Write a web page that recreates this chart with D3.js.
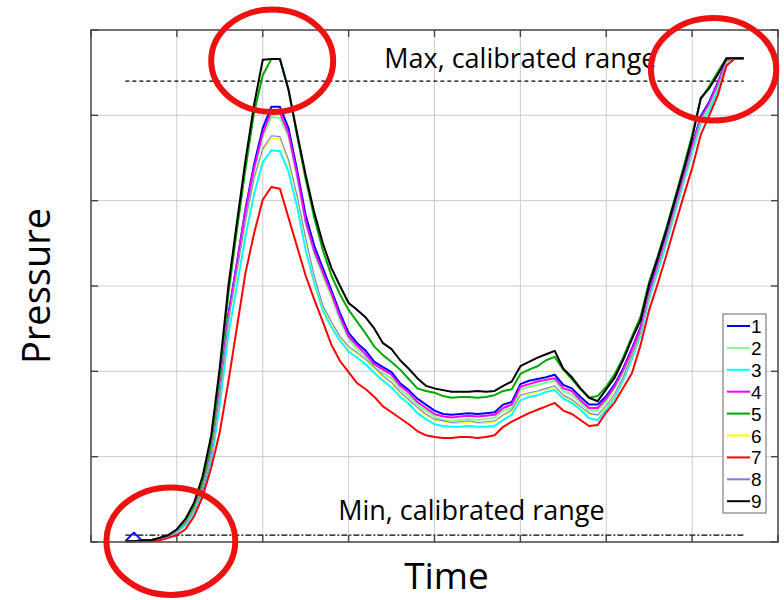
<!DOCTYPE html>
<html><head><meta charset="utf-8">
<script src="https://cdn.jsdelivr.net/npm/d3@7"></script>
<style>body{margin:0;background:#fff}</style>
</head><body><svg id="chart" width="784" height="600"></svg>
<script>
// ---------- DATA ----------
const time = [0.4,0.5,0.6,0.7,0.8,0.9,1.0,1.1,1.2,1.3,1.4,1.5,1.6,1.7,1.8,1.9,2.0,2.1,2.2,2.3,2.4,2.5,2.6,2.7,2.8,2.9,3.0,3.1,3.2,3.3,3.4,3.5,3.6,3.7,3.8,3.9,4.0,4.1,4.2,4.3,4.4,4.5,4.6,4.7,4.8,4.9,5.0,5.1,5.2,5.3,5.4,5.5,5.6,5.7,5.8,5.9,6.0,6.1,6.2,6.3,6.4,6.5,6.6,6.7,6.8,6.9,7.0,7.1,7.2,7.3,7.4,7.5,7.6];
const seriesNames = ["1","2","3","4","5","6","7","8","9"];
const sensor1 = [0.01,0.11,0.01,0.02,0.04,0.06,0.13,0.22,0.39,0.64,1.05,1.78,2.67,3.28,3.91,4.43,4.85,5.10,5.10,4.85,4.36,3.83,3.47,3.21,2.95,2.68,2.45,2.33,2.24,2.11,2.05,1.99,1.86,1.78,1.68,1.61,1.54,1.50,1.49,1.50,1.51,1.50,1.51,1.52,1.61,1.64,1.85,1.89,1.91,1.93,1.96,1.84,1.80,1.70,1.61,1.61,1.71,1.85,2.04,2.27,2.52,2.94,3.27,3.59,3.94,4.29,4.64,4.99,5.16,5.39,5.65,5.67,5.67];
const sensor2 = [0.01,0.01,0.02,0.02,0.04,0.06,0.13,0.22,0.39,0.63,1.02,1.75,2.60,3.24,3.85,4.36,4.75,4.98,4.97,4.75,4.27,3.73,3.38,3.12,2.88,2.60,2.38,2.26,2.17,2.04,1.98,1.92,1.79,1.71,1.61,1.54,1.47,1.43,1.42,1.43,1.44,1.43,1.44,1.46,1.54,1.57,1.78,1.82,1.84,1.87,1.89,1.77,1.73,1.63,1.54,1.54,1.65,1.80,1.99,2.22,2.47,2.90,3.22,3.55,3.90,4.25,4.60,4.96,5.12,5.36,5.64,5.67,5.67];
const sensor3 = [0.01,0.01,0.01,0.02,0.03,0.06,0.11,0.20,0.34,0.57,0.94,1.61,2.43,3.01,3.59,4.08,4.45,4.59,4.58,4.34,3.93,3.42,3.04,2.71,2.52,2.36,2.23,2.16,2.08,1.98,1.89,1.81,1.70,1.62,1.51,1.44,1.38,1.36,1.35,1.35,1.36,1.35,1.35,1.36,1.43,1.49,1.66,1.70,1.72,1.76,1.78,1.68,1.63,1.55,1.45,1.43,1.55,1.70,1.90,2.15,2.42,2.85,3.17,3.50,3.86,4.21,4.56,4.90,5.06,5.30,5.59,5.67,5.67];
const sensor4 = [0.01,0.01,0.02,0.02,0.04,0.06,0.13,0.22,0.39,0.63,1.03,1.76,2.63,3.26,3.88,4.39,4.79,5.04,5.03,4.79,4.31,3.76,3.41,3.16,2.91,2.64,2.41,2.30,2.20,2.08,2.02,1.96,1.83,1.75,1.64,1.57,1.50,1.47,1.46,1.47,1.48,1.47,1.48,1.49,1.57,1.61,1.82,1.85,1.88,1.90,1.92,1.80,1.77,1.66,1.57,1.57,1.68,1.83,2.02,2.25,2.50,2.92,3.25,3.56,3.91,4.27,4.62,4.97,5.14,5.37,5.65,5.67,5.67];
const sensor5 = [0.01,0.01,0.02,0.02,0.04,0.08,0.14,0.25,0.42,0.70,1.16,1.96,2.91,3.66,4.38,5.04,5.47,5.66,5.66,5.30,4.76,4.25,3.80,3.42,3.12,2.90,2.72,2.58,2.44,2.29,2.19,2.11,2.02,1.91,1.80,1.77,1.75,1.71,1.69,1.70,1.70,1.69,1.70,1.72,1.77,1.79,1.97,2.02,2.06,2.13,2.17,2.02,1.91,1.79,1.69,1.71,1.82,1.97,2.17,2.41,2.64,3.05,3.35,3.68,4.03,4.39,4.77,5.19,5.34,5.51,5.67,5.67,5.67];
const sensor6 = [0.01,0.01,0.02,0.02,0.04,0.06,0.12,0.22,0.38,0.64,1.02,1.72,2.58,3.16,3.75,4.24,4.59,4.73,4.73,4.45,4.04,3.54,3.10,2.75,2.56,2.40,2.27,2.21,2.13,2.04,1.93,1.86,1.74,1.66,1.57,1.48,1.43,1.41,1.39,1.39,1.41,1.39,1.39,1.41,1.48,1.53,1.71,1.73,1.76,1.79,1.81,1.71,1.66,1.58,1.50,1.48,1.58,1.73,1.93,2.18,2.45,2.88,3.21,3.54,3.89,4.24,4.59,4.94,5.11,5.34,5.62,5.67,5.67];
const sensor7 = [0.01,0.01,0.01,0.01,0.02,0.05,0.08,0.15,0.30,0.53,0.87,1.29,1.88,2.52,3.16,3.62,4.01,4.16,4.14,3.80,3.46,3.12,2.84,2.58,2.31,2.12,1.99,1.86,1.79,1.70,1.59,1.52,1.45,1.38,1.30,1.25,1.23,1.22,1.22,1.23,1.23,1.22,1.23,1.25,1.35,1.41,1.46,1.51,1.55,1.59,1.63,1.54,1.50,1.43,1.36,1.37,1.52,1.64,1.81,1.98,2.31,2.72,3.03,3.36,3.71,4.05,4.38,4.77,5.00,5.24,5.58,5.67,5.67];
const sensor8 = [0.01,0.01,0.02,0.02,0.04,0.06,0.12,0.22,0.38,0.64,1.03,1.73,2.59,3.18,3.77,4.27,4.61,4.76,4.75,4.48,4.06,3.56,3.12,2.77,2.58,2.41,2.29,2.22,2.14,2.05,1.95,1.87,1.76,1.67,1.58,1.50,1.44,1.42,1.40,1.41,1.42,1.40,1.41,1.42,1.49,1.55,1.72,1.75,1.77,1.80,1.83,1.72,1.67,1.59,1.51,1.49,1.60,1.74,1.94,2.19,2.46,2.89,3.22,3.55,3.90,4.25,4.60,4.95,5.12,5.35,5.63,5.67,5.67];
const sensor9 = [0.01,0.01,0.02,0.02,0.05,0.08,0.15,0.27,0.46,0.77,1.25,2.05,3.00,3.75,4.48,5.13,5.65,5.66,5.66,5.30,4.79,4.30,3.86,3.50,3.21,3.00,2.80,2.72,2.63,2.50,2.33,2.26,2.13,2.03,1.92,1.83,1.80,1.78,1.76,1.76,1.76,1.77,1.76,1.77,1.83,1.88,2.06,2.11,2.16,2.20,2.24,2.03,1.93,1.80,1.69,1.65,1.79,1.93,2.14,2.38,2.60,3.02,3.33,3.66,4.01,4.36,4.73,5.20,5.32,5.48,5.67,5.67,5.67];
const calibratedMax = 5.40;
const calibratedMin = 0.08;
const xTickValues = [0,1,2,3,4,5,6,7,8];
const yTickValues = [0,1,2,3,4,5,6];
const xLabel = "Time";
const yLabel = "Pressure";
const maxLabel = "Max, calibrated range";
const minLabel = "Min, calibrated range";

// ---------- STYLE ----------
const seriesValues = [sensor1,sensor2,sensor3,sensor4,sensor5,sensor6,sensor7,sensor8,sensor9];
const colors = ["#0000ff","#80ff80","#00ffff","#ff00ff","#00a800","#ffff00","#ff0000","#7b7bf0","#000000"];
const widths = [2,2,2,2,2,1.3,2,1.1,2];

const svg = d3.select("#chart");
const x = d3.scaleLinear().domain([0,8]).range([91,778]);
const y = d3.scaleLinear().domain([0,6]).range([542,30]);

// grid
svg.append("g").selectAll("line").data(xTickValues).join("line")
  .attr("x1",d=>x(d)).attr("x2",d=>x(d)).attr("y1",y(0)).attr("y2",y(6))
  .attr("stroke","#cccccc").attr("stroke-width",1);
svg.append("g").selectAll("line").data(yTickValues).join("line")
  .attr("x1",x(0)).attr("x2",x(8)).attr("y1",d=>y(d)).attr("y2",d=>y(d))
  .attr("stroke","#cccccc").attr("stroke-width",1);

// calibrated range lines
svg.append("line").attr("x1",x(time[0])).attr("x2",x(time[time.length-1]))
  .attr("y1",y(calibratedMax)).attr("y2",y(calibratedMax))
  .attr("stroke","#000").attr("stroke-width",1.2).attr("stroke-dasharray","4,3");
svg.append("line").attr("x1",x(time[0])).attr("x2",x(time[time.length-1]))
  .attr("y1",y(calibratedMin)).attr("y2",y(calibratedMin))
  .attr("stroke","#000").attr("stroke-width",1.2).attr("stroke-dasharray","6,2,2,2");

svg.append("text").attr("x",x(5.0)).attr("y",y(5.55)).attr("text-anchor","middle")
  .style("font-family","'Open Sans'").style("font-size","27px").text(maxLabel);
svg.append("text").attr("x",x(4.43)).attr("y",y(0.26)).attr("text-anchor","middle")
  .style("font-family","'Open Sans'").style("font-size","27px").text(minLabel);

// series
const line = d3.line().x((d,i)=>x(time[i])).y(d=>y(d));
svg.append("g").selectAll("path").data(seriesValues).join("path")
  .attr("d",d=>line(d)).attr("fill","none")
  .attr("stroke",(d,i)=>colors[i]).attr("stroke-width",(d,i)=>widths[i])
  .attr("stroke-linejoin","round");

// frame
svg.append("rect").attr("x",x(0)).attr("y",y(6)).attr("width",x(8)-x(0)).attr("height",y(0)-y(6))
  .attr("fill","none").attr("stroke","#555").attr("stroke-width",1.6);
// inward ticks
const tk = 7;
const g = svg.append("g").attr("stroke","#444").attr("stroke-width",1.4);
yTickValues.forEach(v=>{
  g.append("line").attr("x1",x(0)).attr("x2",x(0)+tk).attr("y1",y(v)).attr("y2",y(v));
  g.append("line").attr("x1",x(8)).attr("x2",x(8)-tk).attr("y1",y(v)).attr("y2",y(v));
});
xTickValues.forEach(t=>{
  g.append("line").attr("x1",x(t)).attr("x2",x(t)).attr("y1",y(6)).attr("y2",y(6)+tk);
  g.append("line").attr("x1",x(t)).attr("x2",x(t)).attr("y1",y(0)).attr("y2",y(0)-tk);
});

// axis titles
svg.append("text").attr("x",x(4.14)).attr("y",589).attr("text-anchor","middle")
  .style("font-family","'Open Sans'").style("font-size","37px").text(xLabel);
svg.append("text").attr("transform",`translate(50,${y(3)}) rotate(-90)`).attr("text-anchor","middle")
  .style("font-family","'Open Sans'").style("font-size","38px").text(yLabel);

// legend
const lg = svg.append("g").attr("transform","translate(723,314)");
lg.append("rect").attr("width",43).attr("height",199).attr("fill","#fff").attr("stroke","#666").attr("stroke-width",1);
seriesNames.forEach((n,i)=>{
  const yy = 12 + i*21.9;
  lg.append("line").attr("x1",4).attr("x2",27).attr("y1",yy).attr("y2",yy)
    .attr("stroke",colors[i]).attr("stroke-width",2);
  lg.append("text").attr("x",28).attr("y",yy+7).style("font-family","'Liberation Sans'")
    .style("font-size","19px").text(n);
});

// highlight ellipses (data units)
const highlights = [[2.11,5.64,0.71,0.60],[7.25,5.54,0.73,0.60],[0.93,0.01,0.75,0.63]];
svg.append("g").selectAll("ellipse").data(highlights).join("ellipse")
  .attr("cx",d=>x(d[0])).attr("cy",d=>y(d[1]))
  .attr("rx",d=>x(d[2])-x(0)).attr("ry",d=>y(0)-y(d[3]))
  .attr("fill","none").attr("stroke","#ee1111").attr("stroke-width",6);
</script></body></html>
